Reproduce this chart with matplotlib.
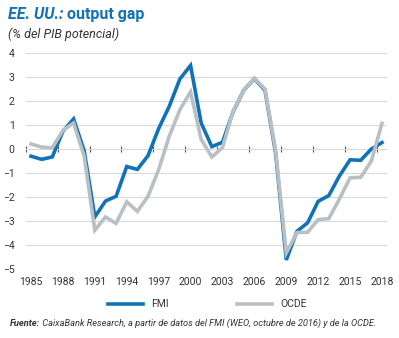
import numpy as np
import matplotlib
matplotlib.use('Agg')
import matplotlib.pyplot as plt
from matplotlib.lines import Line2D

plt.rcParams['font.family'] = ['Roboto', 'DejaVu Sans']

years = np.arange(1985, 2019)
fmi = [-0.30, -0.43, -0.33, 0.74, 1.25, -0.08, -2.83, -2.17, -1.97, -0.73,
       -0.85, -0.28, 0.85, 1.78, 2.92, 3.48, 1.08, 0.10, 0.28, 1.55,
       2.45, 2.93, 2.45, -0.18, -4.62, -3.43, -3.08, -2.18, -1.94, -1.12,
       -0.45, -0.47, 0.00, 0.27]
ocde = [0.21, 0.08, 0.05, 0.78, 1.08, -0.30, -3.38, -2.83, -3.10, -2.20,
        -2.60, -1.97, -0.86, 0.53, 1.64, 2.38, 0.40, -0.33, 0.06, 1.58,
        2.45, 2.95, 2.50, -0.08, -4.33, -3.48, -3.47, -2.94, -2.90, -2.08,
        -1.20, -1.18, -0.50, 1.07]
label_years = np.arange(1985, 2019, 3)
yticks = np.arange(-5, 5, 1)

blue = '#1172b8'
grey = '#b8c0c5'
txt = '#333333'

fig = plt.figure(figsize=(3.99, 3.38), dpi=100)
ax = fig.add_axes([0.0644, 0.2041, 0.9063, 0.6391])

ax.plot(years, fmi, color=blue, lw=2.6, solid_joinstyle='miter', clip_on=False, zorder=3)
ax.plot(years, ocde, color=grey, lw=2.6, solid_joinstyle='miter', clip_on=False, zorder=4)

ax.set_xlim(1984.5, 2018.5)
ax.set_ylim(-5, 4)
ax.set_yticks(yticks)
ax.set_xticks(label_years)
ax.grid(axis='y', color='#d9d9d9', lw=0.8)
ax.set_axisbelow(True)
for s in ax.spines.values():
    s.set_visible(False)
ax.tick_params(axis='both', length=0, labelsize=7.5, labelcolor=txt)
ax.tick_params(axis='y', pad=8)
ax.tick_params(axis='x', pad=6)

# zero line with small tick marks between label years
zero = ax.secondary_xaxis(5 / 9)
zero.set_xticks(np.arange(1984.5, 2018.5, 3))
zero.tick_params(direction='inout', length=5, width=0.8, color='#555555', labelbottom=False, labeltop=False)
zero.spines['bottom'].set_color('#6f6f6f')
zero.spines['bottom'].set_linewidth(0.9)
zero.spines['top'].set_visible(False)

handles = [Line2D([], [], color=blue, lw=2.6), Line2D([], [], color=grey, lw=2.6)]
fig.legend(handles, ['FMI', 'OCDE'], loc='center', bbox_to_anchor=(0.52, 0.10), ncol=2,
           frameon=False, fontsize=7.5, handlelength=3.4, columnspacing=6.5, handletextpad=0.8,
           labelcolor=txt)

t1 = fig.text(0.02, 0.945, 'EE. UU.:', color=blue, fontsize=11.5, fontweight='bold', style='italic', va='baseline')
ax.annotate(' output gap', xy=(1, 0), xycoords=t1, color=blue, fontsize=11.5, fontweight='bold', va='bottom')
fig.text(0.02, 0.888, '(% del PIB potencial)', color=txt, fontsize=9, style='italic', va='baseline')

f1 = fig.text(0.025, 0.035, 'Fuente:', color=txt, fontsize=6.7, fontweight='bold', style='italic', va='baseline')
ax.annotate(' CaixaBank Research, a partir de datos del FMI (WEO, octubre de 2016) y de la OCDE.',
            xy=(1, 0), xycoords=f1, color=txt, fontsize=6.7, style='italic', va='bottom')

fig.savefig('out.png', dpi=100)
